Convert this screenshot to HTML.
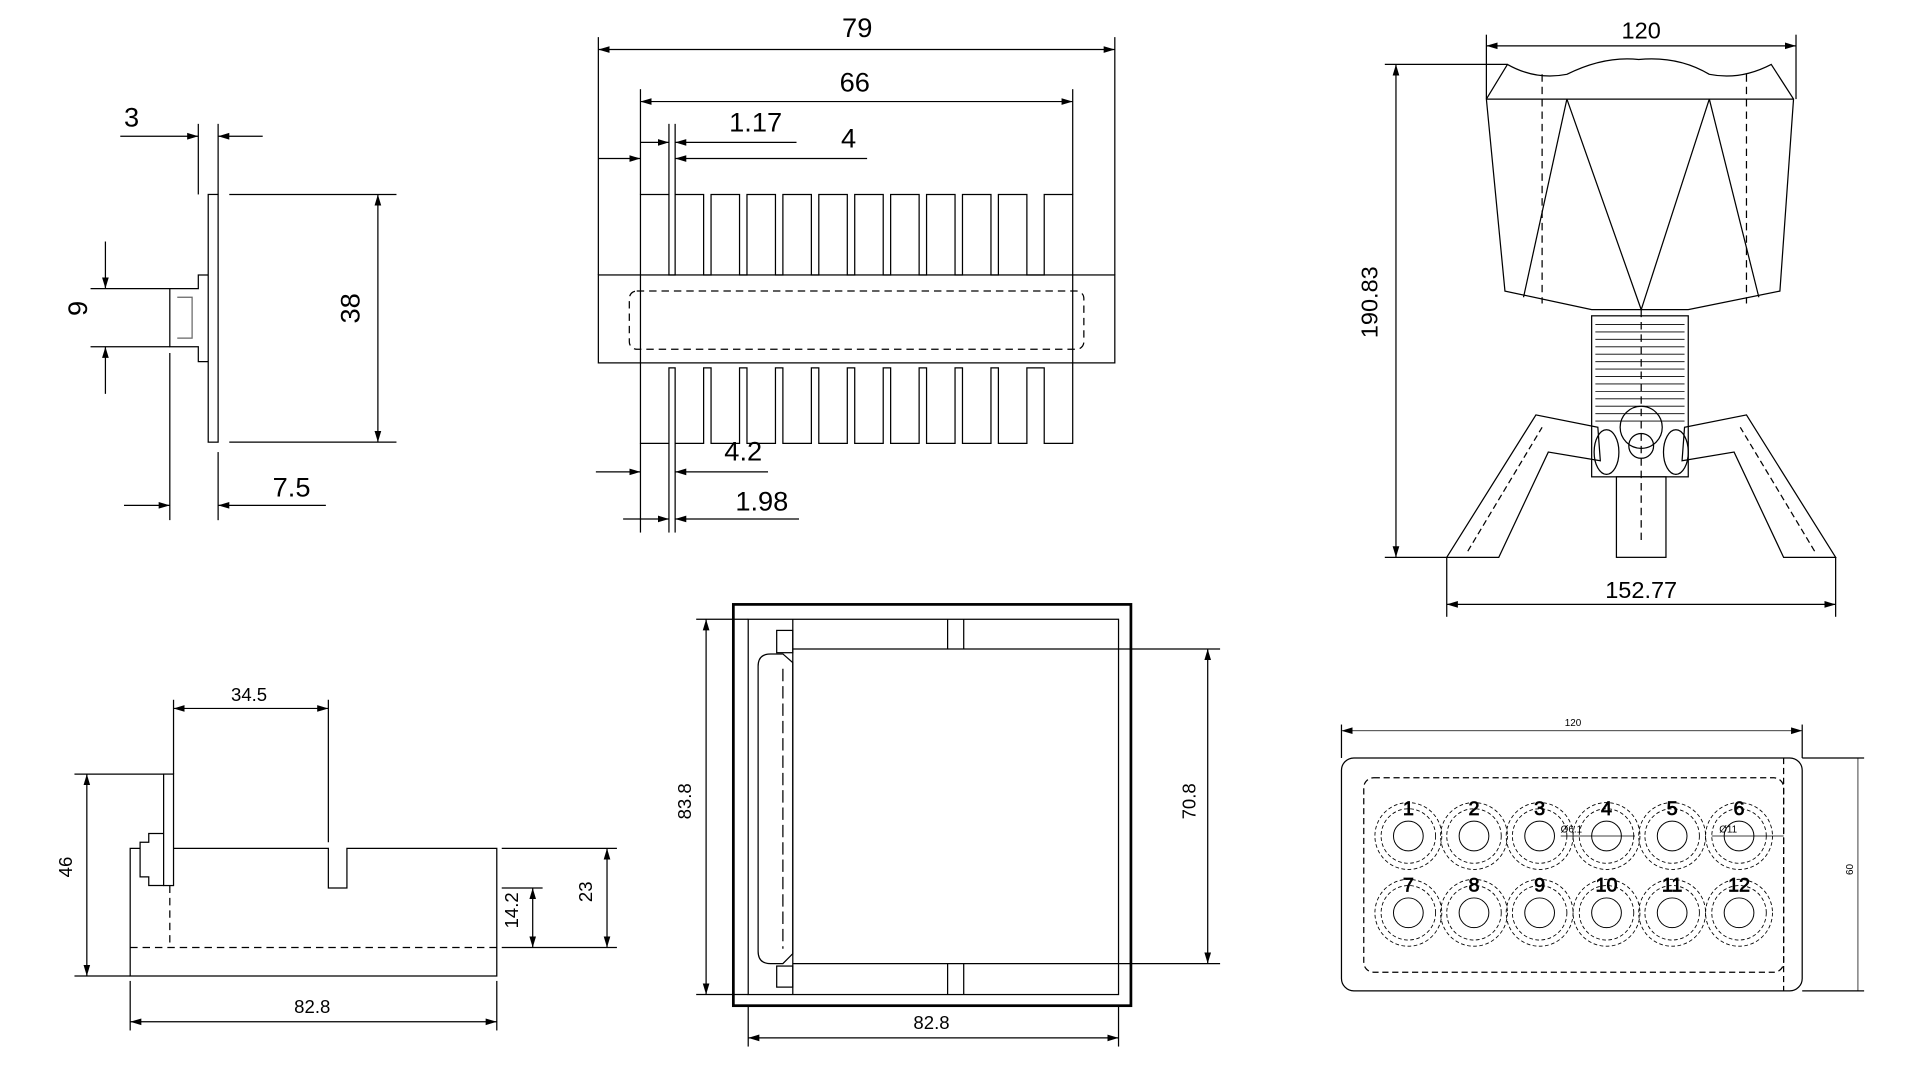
<!DOCTYPE html>
<html><head><meta charset="utf-8"><style>
html,body{margin:0;padding:0;background:#fff;width:1920px;height:1080px;overflow:hidden}
svg{display:block}
text{font-family:"Liberation Sans",sans-serif;fill:#000}
</style></head><body>
<svg width="1920" height="1080" viewBox="0 0 1550 872" xmlns="http://www.w3.org/2000/svg">
<defs>
<marker id="a" viewBox="0 0 10 10" refX="10" refY="5" markerWidth="9" markerHeight="9" orient="auto-start-reverse" markerUnits="userSpaceOnUse"><path d="M0,2 L10,5 L0,8 z" fill="#000"/></marker>
</defs>
<g fill="none" stroke="#000" stroke-width="1">
<!-- View 1 -->
<rect x="168" y="157" width="8" height="200"/>
<path d="M168,222 L160,222 L160,233 L137,233 L137,280 L160,280 L160,292 L168,292"/>
<path d="M143,240 L155,240 L155,273 L143,273" stroke="#666"/>
<line x1="185" y1="157" x2="320" y2="157"/><line x1="185" y1="357" x2="320" y2="357"/>
<line x1="305" y1="157" x2="305" y2="357" marker-start="url(#a)" marker-end="url(#a)"/>
<line x1="73" y1="233" x2="137" y2="233"/><line x1="73" y1="280" x2="137" y2="280"/>
<line x1="85" y1="195" x2="85" y2="233" marker-end="url(#a)"/><line x1="85" y1="318" x2="85" y2="280" marker-end="url(#a)"/>
<line x1="160" y1="100" x2="160" y2="157"/><line x1="176" y1="100" x2="176" y2="157"/>
<line x1="97" y1="110" x2="160" y2="110" marker-end="url(#a)"/><line x1="212" y1="110" x2="176" y2="110" marker-end="url(#a)"/>
<line x1="137" y1="285" x2="137" y2="420"/><line x1="176" y1="365" x2="176" y2="420"/>
<line x1="100" y1="408" x2="137" y2="408" marker-end="url(#a)"/><line x1="263" y1="408" x2="176" y2="408" marker-end="url(#a)"/>
<!-- View 2 heatsink -->
<path d="M517,222 L517,157 L540,157 L540,222 L545,222 L545,157 L568,157 L568,222 L574,222 L574,157 L597,157 L597,222 L603,222 L603,157 L626,157 L626,222 L632,222 L632,157 L655,157 L655,222 L661,222 L661,157 L684,157 L684,222 L690,222 L690,157 L713,157 L713,222 L719,222 L719,157 L742,157 L742,222 L748,222 L748,157 L771,157 L771,222 L777,222 L777,157 L800,157 L800,222 L806,222 L806,157 L829,157 L829,222 L843,222 L843,157 L866,157 L866,222"/>
<path d="M517,293 L517,358 L540,358 L540,297 L545,297 L545,358 L568,358 L568,297 L574,297 L574,358 L597,358 L597,297 L603,297 L603,358 L626,358 L626,297 L632,297 L632,358 L655,358 L655,297 L661,297 L661,358 L684,358 L684,297 L690,297 L690,358 L713,358 L713,297 L719,297 L719,358 L742,358 L742,297 L748,297 L748,358 L771,358 L771,297 L777,297 L777,358 L800,358 L800,297 L806,297 L806,358 L829,358 L829,297 L843,297 L843,358 L866,358 L866,293"/>
<rect x="483" y="222" width="417" height="71"/>
<line x1="517" y1="222" x2="517" y2="293"/><line x1="866" y1="222" x2="866" y2="293"/>
<rect x="508" y="235" width="367" height="47" rx="6" stroke-dasharray="6,4"/>
<line x1="483" y1="30" x2="483" y2="222"/><line x1="900" y1="30" x2="900" y2="222"/>
<line x1="483" y1="40" x2="900" y2="40" marker-start="url(#a)" marker-end="url(#a)"/>
<line x1="517" y1="72" x2="517" y2="157"/><line x1="866" y1="72" x2="866" y2="157"/>
<line x1="517" y1="82" x2="866" y2="82" marker-start="url(#a)" marker-end="url(#a)"/>
<line x1="540" y1="100" x2="540" y2="157"/><line x1="545" y1="100" x2="545" y2="157"/>
<line x1="517" y1="115" x2="540" y2="115" marker-end="url(#a)"/><line x1="643" y1="115" x2="545" y2="115" marker-end="url(#a)"/>
<line x1="483" y1="128" x2="517" y2="128" marker-end="url(#a)"/><line x1="700" y1="128" x2="545" y2="128" marker-end="url(#a)"/>
<line x1="517" y1="358" x2="517" y2="430"/><line x1="540" y1="358" x2="540" y2="430"/><line x1="545" y1="358" x2="545" y2="430"/>
<line x1="481" y1="381" x2="517" y2="381" marker-end="url(#a)"/><line x1="620" y1="381" x2="545" y2="381" marker-end="url(#a)"/>
<line x1="503" y1="419" x2="540" y2="419" marker-end="url(#a)"/><line x1="645" y1="419" x2="545" y2="419" marker-end="url(#a)"/>
<!-- View 3 lamp -->
<path d="M1200,80 L1217,52 Q1240,65 1265,60 Q1295,45 1323,48 Q1355,45 1380,60 Q1405,65 1430,52 L1448,80 L1437,235 L1363,250 L1285,250 L1215,235 Z"/>
<line x1="1200" y1="80" x2="1448" y2="80"/>
<path d="M1265,80 L1230,240 M1380,80 L1420,240 M1265,80 L1325,250 L1380,80"/>
<path d="M1245,60 L1245,245 M1410,60 L1410,245" stroke-dasharray="6,4"/>
<line x1="1325" y1="250" x2="1325" y2="440" stroke-dasharray="6,4"/>
<rect x="1285" y="255" width="78" height="130"/>
<g stroke-width="0.7">
<path d="M1288,262 H1360 M1288,268 H1360 M1288,274 H1360 M1288,280 H1360 M1288,286 H1360 M1288,292 H1360 M1288,298 H1360 M1288,304 H1360 M1288,310 H1360 M1288,316 H1360 M1288,322 H1360 M1288,328 H1360 M1288,334 H1360 M1288,340 H1360"/>
</g>
<circle cx="1325" cy="345" r="17"/><circle cx="1325" cy="360" r="10"/>
<ellipse cx="1297" cy="365" rx="10" ry="18"/><ellipse cx="1353" cy="365" rx="10" ry="18"/>
<path d="M1168,450 L1240,335 L1290,345 L1292,372 L1250,365 L1210,450 Z"/>
<path d="M1482,450 L1410,335 L1360,345 L1358,372 L1400,365 L1440,450 Z"/>
<path d="M1185,445 L1245,345 M1465,445 L1405,345" stroke-dasharray="5,3"/>
<rect x="1305" y="385" width="40" height="65"/>
<line x1="1200" y1="28" x2="1200" y2="80"/><line x1="1450" y1="28" x2="1450" y2="80"/>
<line x1="1200" y1="37" x2="1450" y2="37" marker-start="url(#a)" marker-end="url(#a)"/>
<line x1="1118" y1="52" x2="1217" y2="52"/><line x1="1118" y1="450" x2="1168" y2="450"/>
<line x1="1127" y1="52" x2="1127" y2="450" marker-start="url(#a)" marker-end="url(#a)"/>
<line x1="1168" y1="450" x2="1168" y2="498"/><line x1="1482" y1="450" x2="1482" y2="498"/>
<line x1="1168" y1="488" x2="1482" y2="488" marker-start="url(#a)" marker-end="url(#a)"/>
<!-- View 4 -->
<rect x="132" y="625" width="8" height="90"/>
<path d="M132,673 L120,673 L120,680 L113,680 L113,708 L120,708 L120,715 L132,715"/>
<path d="M113,685 L105,685 L105,788 L401,788 L401,685 L280,685 L280,717 L265,717 L265,685 L140,685"/>
<line x1="105" y1="765" x2="401" y2="765" stroke-dasharray="6,4"/>
<line x1="137" y1="715" x2="137" y2="765" stroke-dasharray="6,4"/>
<line x1="140" y1="565" x2="140" y2="625"/><line x1="265" y1="565" x2="265" y2="680"/>
<line x1="140" y1="572" x2="265" y2="572" marker-start="url(#a)" marker-end="url(#a)"/>
<line x1="60" y1="625" x2="132" y2="625"/><line x1="60" y1="788" x2="105" y2="788"/>
<line x1="70" y1="625" x2="70" y2="788" marker-start="url(#a)" marker-end="url(#a)"/>
<line x1="405" y1="685" x2="498" y2="685"/><line x1="405" y1="765" x2="498" y2="765"/>
<line x1="405" y1="717" x2="438" y2="717"/>
<line x1="490" y1="685" x2="490" y2="765" marker-start="url(#a)" marker-end="url(#a)"/>
<line x1="430" y1="717" x2="430" y2="765" marker-start="url(#a)" marker-end="url(#a)"/>
<line x1="105" y1="792" x2="105" y2="832"/><line x1="401" y1="792" x2="401" y2="832"/>
<line x1="105" y1="825" x2="401" y2="825" marker-start="url(#a)" marker-end="url(#a)"/>
<!-- View 5 -->
<rect x="592" y="488" width="321" height="324" stroke-width="2.2"/>
<rect x="604" y="500" width="299" height="303"/>
<path d="M640,524 H903 M640,778 H903 M765,500 V524 M778,500 V524 M765,778 V803 M778,778 V803 M640,500 V803"/>
<path d="M622,528 H632 L640,535 V770 L632,778 H622 Q612,778 612,768 V538 Q612,528 622,528 Z"/>
<path d="M632,540 V766" stroke-dasharray="10,4"/>
<rect x="627" y="509" width="13" height="18"/><rect x="627" y="780" width="13" height="17"/>
<line x1="562" y1="500" x2="604" y2="500"/><line x1="562" y1="803" x2="604" y2="803"/>
<line x1="570" y1="500" x2="570" y2="803" marker-start="url(#a)" marker-end="url(#a)"/>
<line x1="903" y1="524" x2="985" y2="524"/><line x1="903" y1="778" x2="985" y2="778"/>
<line x1="975" y1="524" x2="975" y2="778" marker-start="url(#a)" marker-end="url(#a)"/>
<line x1="604" y1="812" x2="604" y2="845"/><line x1="903" y1="812" x2="903" y2="845"/>
<line x1="604" y1="838" x2="903" y2="838" marker-start="url(#a)" marker-end="url(#a)"/>
<!-- View 6 -->
<rect x="1083" y="612" width="372" height="188" rx="10"/>
<rect x="1101" y="628" width="339" height="157" rx="8" stroke-dasharray="5,3"/>
<line x1="1440" y1="612" x2="1440" y2="800" stroke-dasharray="5,3"/>
<g stroke-width="0.8">
<circle cx="1137" cy="675" r="12"/><circle cx="1190" cy="675" r="12"/><circle cx="1243" cy="675" r="12"/><circle cx="1297" cy="675" r="12"/><circle cx="1350" cy="675" r="12"/><circle cx="1404" cy="675" r="12"/>
<circle cx="1137" cy="737" r="12"/><circle cx="1190" cy="737" r="12"/><circle cx="1243" cy="737" r="12"/><circle cx="1297" cy="737" r="12"/><circle cx="1350" cy="737" r="12"/><circle cx="1404" cy="737" r="12"/>
</g>
<g stroke-dasharray="3,2" stroke-width="0.7">
<circle cx="1137" cy="675" r="22"/><circle cx="1190" cy="675" r="22"/><circle cx="1243" cy="675" r="22"/><circle cx="1297" cy="675" r="22"/><circle cx="1350" cy="675" r="22"/><circle cx="1404" cy="675" r="22"/>
<circle cx="1137" cy="737" r="22"/><circle cx="1190" cy="737" r="22"/><circle cx="1243" cy="737" r="22"/><circle cx="1297" cy="737" r="22"/><circle cx="1350" cy="737" r="22"/><circle cx="1404" cy="737" r="22"/>
<circle cx="1137" cy="675" r="27"/><circle cx="1190" cy="675" r="27"/><circle cx="1243" cy="675" r="27"/><circle cx="1297" cy="675" r="27"/><circle cx="1350" cy="675" r="27"/><circle cx="1404" cy="675" r="27"/>
<circle cx="1137" cy="737" r="27"/><circle cx="1190" cy="737" r="27"/><circle cx="1243" cy="737" r="27"/><circle cx="1297" cy="737" r="27"/><circle cx="1350" cy="737" r="27"/><circle cx="1404" cy="737" r="27"/>
</g>
<line x1="1260" y1="675" x2="1320" y2="675" stroke-width="0.6"/><line x1="1382" y1="675" x2="1440" y2="675" stroke-width="0.6"/>
<line x1="1083" y1="585" x2="1083" y2="612"/><line x1="1455" y1="585" x2="1455" y2="612"/>
<line x1="1083" y1="590" x2="1455" y2="590" stroke-width="0.6" marker-start="url(#a)" marker-end="url(#a)"/>
<line x1="1455" y1="612" x2="1505" y2="612"/><line x1="1455" y1="800" x2="1505" y2="800"/>
<line x1="1500" y1="612" x2="1500" y2="800" stroke-width="0.6"/>
</g>
<!-- Text -->
<g font-size="22">
<text x="100" y="102">3</text>
<text x="220" y="401">7.5</text>
<text x="78" y="257" text-anchor="middle" transform="rotate(-90 70 257)">9</text>
<text x="298" y="257" text-anchor="middle" transform="rotate(-90 290 257)">38</text>
<text x="692" y="30" text-anchor="middle">79</text>
<text x="690" y="74" text-anchor="middle">66</text>
<text x="610" y="106" text-anchor="middle">1.17</text>
<text x="685" y="119" text-anchor="middle">4</text>
<text x="600" y="372" text-anchor="middle">4.2</text>
<text x="615" y="412" text-anchor="middle">1.98</text>
<text x="1325" y="31" text-anchor="middle" font-size="19">120</text>
<text x="1118" y="250" text-anchor="middle" font-size="19" transform="rotate(-90 1112 250)">190.83</text>
<text x="1325" y="483" text-anchor="middle" font-size="19">152.77</text>
</g>
<g font-size="15">
<text x="201" y="566" text-anchor="middle">34.5</text>
<text x="63" y="705" text-anchor="middle" transform="rotate(-90 58 705)">46</text>
<text x="483" y="725" text-anchor="middle" transform="rotate(-90 478 725)">23</text>
<text x="423" y="740" text-anchor="middle" transform="rotate(-90 418 740)">14.2</text>
<text x="252" y="818" text-anchor="middle">82.8</text>
<text x="563" y="652" text-anchor="middle" transform="rotate(-90 558 652)">83.8</text>
<text x="970" y="652" text-anchor="middle" transform="rotate(-90 965 652)">70.8</text>
<text x="752" y="831" text-anchor="middle">82.8</text>
</g>
<g font-size="8">
<text x="1270" y="586" text-anchor="middle">120</text>
<text x="1500" y="706" text-anchor="middle" transform="rotate(-90 1496 706)">60</text>
<text x="1260" y="672">Ø6.1</text><text x="1388" y="672">Ø11</text>
</g>
<g font-size="16" fill="none" stroke="#000" stroke-width="0.6">
<text x="1137" y="658" text-anchor="middle">1</text><text x="1190" y="658" text-anchor="middle">2</text><text x="1243" y="658" text-anchor="middle">3</text><text x="1297" y="658" text-anchor="middle">4</text><text x="1350" y="658" text-anchor="middle">5</text><text x="1404" y="658" text-anchor="middle">6</text>
<text x="1137" y="720" text-anchor="middle">7</text><text x="1190" y="720" text-anchor="middle">8</text><text x="1243" y="720" text-anchor="middle">9</text><text x="1297" y="720" text-anchor="middle">10</text><text x="1350" y="720" text-anchor="middle">11</text><text x="1404" y="720" text-anchor="middle">12</text>
</g>
</svg>
</body></html>
